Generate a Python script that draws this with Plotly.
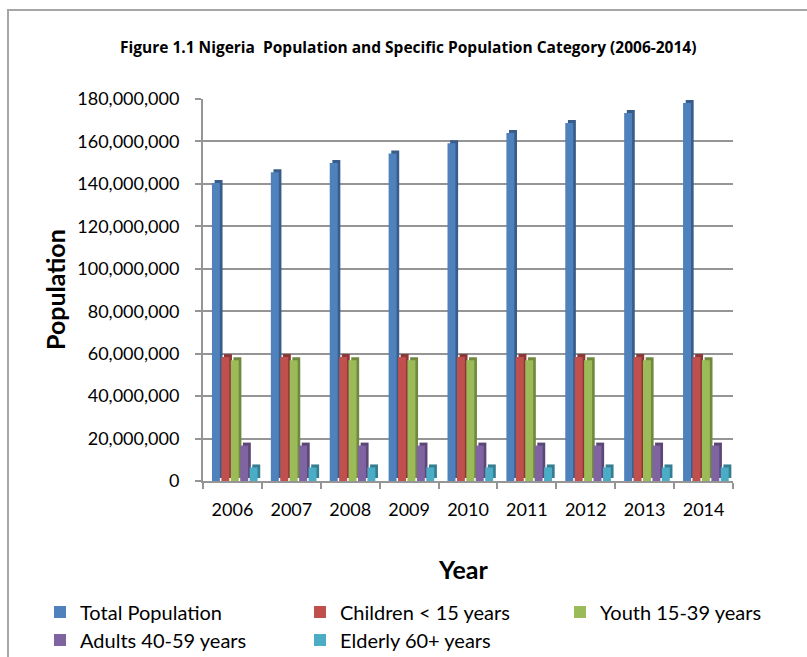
import plotly.graph_objects as go

# Nigeria population by category, 2006-2014
years = ["2006", "2007", "2008", "2009", "2010", "2011", "2012", "2013", "2014"]
total_population = [140.4e6, 145.5e6, 149.9e6, 154.3e6, 159.2e6, 164.0e6, 168.7e6, 173.4e6, 178.1e6]
children_under_15 = [58.4e6] * 9
youth_15_39 = [56.9e6] * 9
adults_40_59 = [16.7e6] * 9
elderly_60_plus = [6.4e6] * 9

series_names = ["Total Population", "Children < 15 years", "Youth 15-39 years",
                "Adults 40-59 years", "Elderly 60+ years"]
series_values = [total_population, children_under_15, youth_15_39, adults_40_59, elderly_60_plus]
face_colors = ["#4F81BD", "#C0504D", "#9BBB59", "#8064A2", "#4BACC6"]
side_colors = ["#385D8A", "#8C3836", "#71893F", "#5C4776", "#357D91"]

W, H = 807, 657
L, R, T, B = 203, 74, 99, 176
PW, PH = W - L - R, H - T - B
FONT = "Lato"


def px_x(px):
    return (px - L) / PW


def px_y(py):
    return (H - B - py) / PH


# legend slot (text left edge, text centre line) for each series
legend_slots = [(80, 612), (340, 612), (600, 612), (80, 640), (340, 640)]
legend_ids = ["legend", "legend2", "legend3", "legend4", "legend5"]

# pseudo-3D column geometry (category units / axis units)
group_start = -0.348
slot = 0.16
face_w = 0.135
side_shift = 0.045
depth = 1.4e6

fig = go.Figure()
for i, (name, vals) in enumerate(zip(series_names, series_values)):
    off = group_start + i * slot
    # receding side/top of each column
    fig.add_trace(go.Bar(
        x=years, y=vals, base=depth, offset=off + side_shift, width=face_w,
        marker=dict(color=side_colors[i], line=dict(width=0)),
        showlegend=False, hoverinfo="skip",
    ))
    # front face of each column
    fig.add_trace(go.Bar(
        x=years, y=vals, offset=off, width=face_w, name=name,
        marker=dict(color=face_colors[i], line=dict(width=0)),
        legend=legend_ids[i],
    ))

grid_col = "#959595"
legend_layout = {}
for lid, (tx, ty) in zip(legend_ids, legend_slots):
    legend_layout[lid] = dict(
        orientation="h", xanchor="left", yanchor="middle",
        x=px_x(tx - 40), y=px_y(ty),
        font=dict(family=FONT, size=20, color="#000000"),
        bgcolor="rgba(0,0,0,0)", itemclick=False,
    )

fig.update_layout(
    width=W, height=H,
    margin=dict(l=L, r=R, t=T, b=B, autoexpand=False),
    paper_bgcolor="white", plot_bgcolor="white",
    barmode="overlay",
    font=dict(family=FONT, color="#000000"),
    xaxis=dict(
        type="category", showgrid=False,
        showline=True, linecolor=grid_col, linewidth=2,
        ticks="outside", tickson="boundaries", ticklen=6, tickcolor=grid_col, tickwidth=2,
        tickfont=dict(family=FONT, size=18), ticklabelstandoff=11,
    ),
    yaxis=dict(
        range=[0, 180e6], tickvals=[i * 20e6 for i in range(10)],
        tickformat=",d", showgrid=True, gridcolor=grid_col, gridwidth=2,
        zeroline=False,
        showline=True, linecolor=grid_col, linewidth=2,
        ticks="outside", ticklen=6, tickcolor=grid_col, tickwidth=2,
        tickfont=dict(family=FONT, size=18), ticklabelstandoff=12,
    ),
    annotations=[
        dict(text="<b>Figure 1.1 Nigeria  Population and Specific Population Category (2006-2014)</b>",
             x=px_x(408), y=px_y(47), xref="paper", yref="paper", showarrow=False,
             font=dict(family="Open Sans", size=15.5), xanchor="center", yanchor="middle"),
        dict(text="<b>Population</b>", textangle=-90,
             x=px_x(55), y=px_y(290), xref="paper", yref="paper", showarrow=False,
             font=dict(family=FONT, size=25), xanchor="center", yanchor="middle"),
        dict(text="<b>Year</b>",
             x=px_x(463), y=px_y(569), xref="paper", yref="paper", showarrow=False,
             font=dict(family=FONT, size=25), xanchor="center", yanchor="middle"),
    ],
    shapes=[
        # chart area border
        dict(type="rect", xref="paper", yref="paper",
             x0=px_x(8), x1=px_x(W + 20), y0=px_y(H + 20), y1=px_y(10),
             line=dict(color="#A6A6A6", width=2), fillcolor="rgba(0,0,0,0)", layer="below"),
    ],
    **legend_layout,
)

fig.write_html("out.html")
